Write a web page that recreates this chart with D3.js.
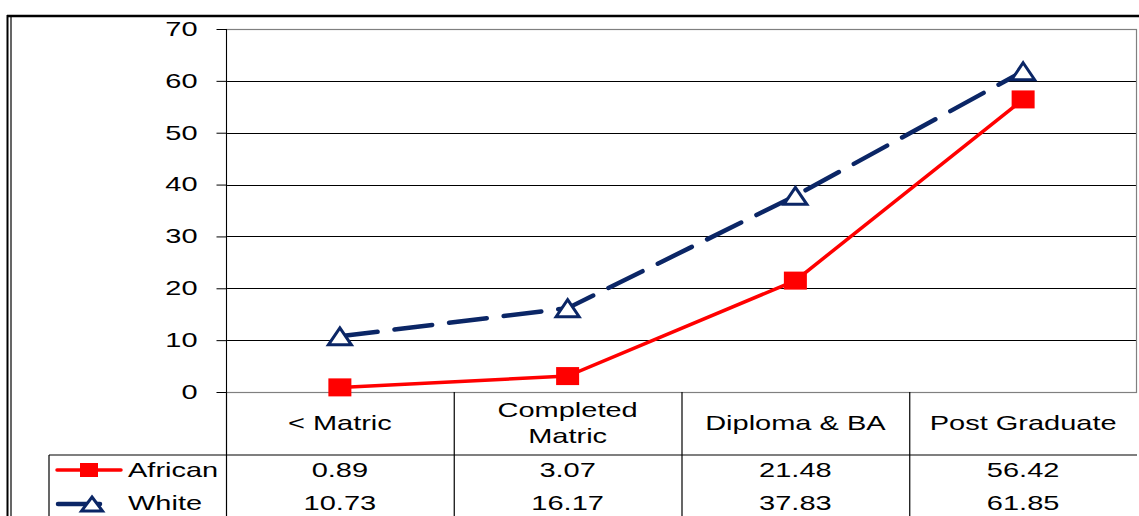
<!DOCTYPE html>
<html>
<head>
<meta charset="utf-8">
<script src="https://cdn.jsdelivr.net/npm/d3@7"></script>
<style>
  html, body { margin: 0; padding: 0; background: #fff; }
  svg { display: block; }
  text { font-family: "Liberation Sans", Arial, sans-serif; fill: #000; }
</style>
</head>
<body>
<svg id="chart" width="1139" height="516"></svg>
<script>
const categories = ["< Matric", "Completed\nMatric", "Diploma & BA", "Post Graduate"];
const african = [0.89, 3.07, 21.48, 56.42];
const white = [10.73, 16.17, 37.83, 61.85];
const yTicks = [0, 10, 20, 30, 40, 50, 60, 70];
const seriesNames = ["African", "White"];

const W = 1139, H = 516;
const SX = 1.45;           // horizontal stretch of the original rendering
const FS = 20;             // font size
const svg = d3.select("#chart");

const plotL = 226, plotR = 1137, plotT = 29, plotB = 392;
const y = d3.scaleLinear().domain([0, 70]).range([plotB, plotT]);
const x = d3.scaleBand().domain(categories).range([plotL, plotR]).padding(0);
const cx = c => x(c) + x.bandwidth() / 2;

function label(g, px, py, str, anchor) {
  g.append("g")
    .attr("transform", `translate(${px},${py}) scale(${SX},1)`)
    .append("text")
    .attr("text-anchor", anchor || "middle")
    .attr("dy", "0.35em")
    .style("font-size", FS + "px")
    .text(str);
}

// outer frame
svg.append("line").attr("x1", 7).attr("x2", W).attr("y1", 16).attr("y2", 16)
  .attr("stroke", "#000").attr("stroke-width", 2.5);
svg.append("line").attr("x1", 7.5).attr("x2", 7.5).attr("y1", 15).attr("y2", H)
  .attr("stroke", "#000").attr("stroke-width", 2);
svg.append("line").attr("x1", 11).attr("x2", 11).attr("y1", 16).attr("y2", H)
  .attr("stroke", "#000").attr("stroke-width", 1.2);

// gridlines
svg.append("g").selectAll("line").data(yTicks.filter(t => t > 0 && t < 70)).join("line")
  .attr("x1", plotL).attr("x2", plotR)
  .attr("y1", d => Math.round(y(d)) + 0.5).attr("y2", d => Math.round(y(d)) + 0.5)
  .attr("stroke", "#000").attr("stroke-width", 1);

// plot border (gray)
svg.append("rect").attr("x", plotL + 0.5).attr("y", plotT + 0.5)
  .attr("width", plotR - plotL - 1).attr("height", plotB - plotT)
  .attr("fill", "none").attr("stroke", "#808080").attr("stroke-width", 1.2);

// y axis
const yAxis = d3.axisLeft(y).tickValues(yTicks).tickSize(10).tickPadding(0);
const ya = svg.append("g").attr("transform", `translate(${plotL + 0.5},0)`).call(yAxis);
ya.select(".domain").attr("stroke", "#000").attr("d", `M0,${plotT}V${plotB}`);
ya.selectAll(".tick line").attr("stroke", "#000");
ya.selectAll(".tick text")
  .attr("x", -29 / SX)
  .attr("transform", `scale(${SX},1)`)
  .style("font-family", '"Liberation Sans", Arial, sans-serif')
  .style("font-size", FS + "px")
  .attr("fill", "#000");

// data table grid
const tbl = svg.append("g").attr("stroke", "#000").attr("stroke-width", 1.2);
x.domain().forEach((c, i) => {
  if (i > 0) tbl.append("line").attr("x1", x(c) + 0.5).attr("x2", x(c) + 0.5)
    .attr("y1", plotB).attr("y2", H);
});
tbl.append("line").attr("x1", plotL + 0.5).attr("x2", plotL + 0.5).attr("y1", plotB).attr("y2", H);
tbl.append("line").attr("x1", 49).attr("x2", plotR).attr("y1", 455).attr("y2", 455);
tbl.append("line").attr("x1", 49).attr("x2", 49).attr("y1", 455).attr("y2", H);

// category labels
categories.forEach(c => {
  const parts = c.split("\n");
  if (parts.length === 1) label(svg, cx(c), 423, parts[0]);
  else parts.forEach((p, j) => label(svg, cx(c), 410 + j * 26, p));
});

// values
const rowY = [470, 503];
[african, white].forEach((vals, r) => {
  vals.forEach((v, i) => label(svg, cx(categories[i]), rowY[r], v.toFixed(2)));
});

// series
const NAVY = "#0B2666", RED = "#FF0000";
const line = d3.line().x((d, i) => cx(categories[i])).y(d => y(d));

svg.append("path").datum(african).attr("d", line)
  .attr("fill", "none").attr("stroke", RED).attr("stroke-width", 3.5);
svg.append("path").datum(white).attr("d", line)
  .attr("fill", "none").attr("stroke", NAVY).attr("stroke-width", 4.5)
  .attr("stroke-dasharray", "38,17").attr("stroke-linecap", "round");

const tri = (w, h) => `M0,${-h / 2}L${w / 2},${h / 2}L${-w / 2},${h / 2}Z`;

svg.append("g").selectAll("rect").data(african).join("rect")
  .attr("x", (d, i) => cx(categories[i]) - 11.5).attr("y", d => y(d) - 9)
  .attr("width", 23).attr("height", 18).attr("fill", RED);

svg.append("g").selectAll("path").data(white).join("path")
  .attr("transform", (d, i) => `translate(${cx(categories[i])},${y(d)})`)
  .attr("d", tri(23, 17)).attr("fill", "#fff")
  .attr("stroke", NAVY).attr("stroke-width", 3).attr("stroke-linejoin", "miter");

// legend keys
const lg = svg.append("g");
lg.append("line").attr("x1", 57).attr("x2", 121).attr("y1", rowY[0]).attr("y2", rowY[0])
  .attr("stroke", RED).attr("stroke-width", 3.5).attr("stroke-linecap", "round");
lg.append("rect").attr("x", 80).attr("y", rowY[0] - 7).attr("width", 18).attr("height", 14).attr("fill", RED);
label(lg, 128, rowY[0], seriesNames[0], "start");

lg.append("line").attr("x1", 58).attr("x2", 100).attr("y1", rowY[1] + 1).attr("y2", rowY[1] + 1)
  .attr("stroke", NAVY).attr("stroke-width", 4.5).attr("stroke-linecap", "round");
lg.append("path").attr("transform", `translate(92,${rowY[1] + 1})`)
  .attr("d", tri(21, 14)).attr("fill", "#fff").attr("stroke", NAVY).attr("stroke-width", 3);
label(lg, 128, rowY[1], seriesNames[1], "start");
</script>
</body>
</html>
